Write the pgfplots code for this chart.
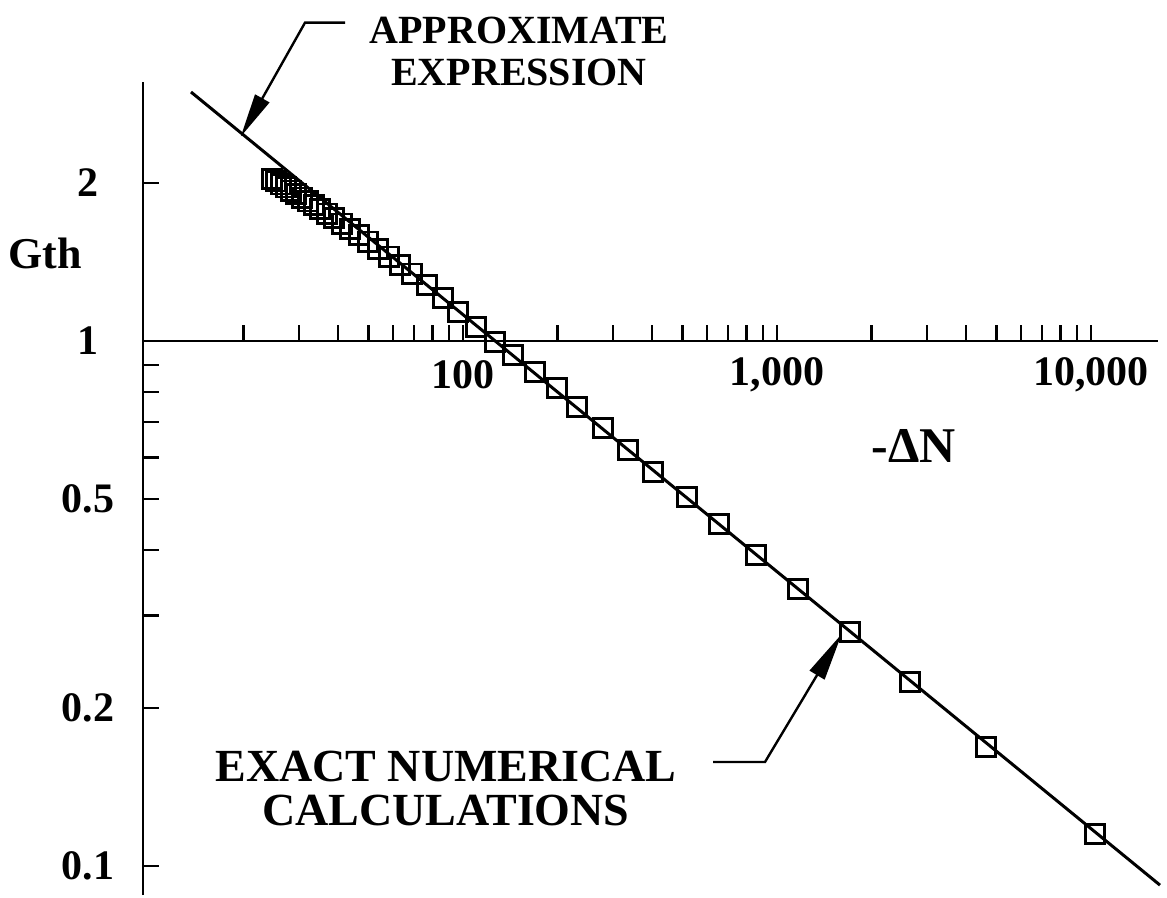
\documentclass[border=0pt]{standalone}
\usepackage{fontspec}
\setmainfont{Liberation Serif}
\usepackage{pgfplots}
\pgfplotsset{compat=1.18}
\usetikzlibrary{arrows.meta}
\begin{document}
\begin{tikzpicture}
\begin{axis}[
  at={(0,0)}, anchor=south west,
  scale only axis, width=507.5pt, height=406.5pt,
  xmode=log, ymode=log,
  xmin=9.57, xmax=16350, ymin=0.0881, ymax=3.114,
  axis x line=middle, axis y line=left,
  axis line style={-, line width=1.4pt},
  xtick={100,1000,10000}, xticklabels={100,{1,000},{10,000}},
  minor xtick={20,30,40,50,60,70,80,90,200,300,400,500,600,700,800,900,2000,3000,4000,5000,6000,7000,8000,9000},
  ytick={0.1,0.2,0.5,1,2}, yticklabels={0.1,0.2,0.5,1,2},
  minor ytick={0.3,0.4,0.6,0.7,0.8,0.9},
  tick align=inside,
  major tick length=8pt, minor tick length=8pt,
  every tick/.style={black, line width=1.1pt},
  ticklabel style={font=\bfseries\fontsize{21}{21}\selectfont},
  xticklabel style={anchor=center, yshift=-17pt},
  yticklabel style={anchor=center, xshift=-27.5pt},
  clip=false,
]
\addplot[black, line width=1.5pt, no marks] coordinates {(13.61,2.980) (16590,0.0920)};
\addplot[black, only marks, mark=square, mark size=4.8pt, mark options={solid, line width=1.4pt}] coordinates {
(24.6,2.035) (25.4,2.014) (26.3,1.988) (27.3,1.961) (28.3,1.934) (29.4,1.908)
(30.7,1.876) (32.1,1.845) (33.5,1.814) (35.0,1.784) (36.9,1.748) (38.8,1.713)
(41.2,1.673) (43.7,1.634) (46.6,1.590) (49.8,1.547) (53.6,1.499) (58.1,1.448)
(63.0,1.397) (68.8,1.344) (76.8,1.278) (86.4,1.207) (96.4,1.136) (110,1.063)
(126.5,0.9956) (144.3,0.9404) (169.6,0.8730) (199.2,0.8138) (230.8,0.7484)
(279.2,0.6829) (335.4,0.6200) (402.9,0.5627) (517,0.5044) (653.7,0.4481)
(857.6,0.3912) (1166.6,0.3370) (1708,0.2791) (2652,0.2241) (4631,0.1685) (10290,0.1151)
};
\end{axis}
\node[font=\bfseries\fontsize{20}{21}\selectfont, align=center] at (188pt,422pt) {APPROXIMATE\\EXPRESSION};
\draw[line width=1.2pt, -{Triangle[length=22pt,width=8pt]}] (101pt,436.15pt) -- (81pt,436.15pt) -- (48.85pt,379.15pt);
\node[font=\bfseries\fontsize{23}{22}\selectfont, align=center] at (151.5pt,53pt) {EXACT NUMERICAL\\CALCULATIONS};
\draw[line width=1.2pt, -{Triangle[length=24pt,width=8.5pt]}] (285pt,66.5pt) -- (311pt,66.5pt) -- (349.35pt,130.5pt);
\node[font=\bfseries\fontsize{25}{25}\selectfont] at (385.5pt,224.5pt) {-ΔN};
\node[font=\bfseries\fontsize{22}{22}\selectfont] at (-49pt,321pt) {Gth};
\pgfresetboundingbox
\path[use as bounding box] (-71.5pt,-1.5pt) rectangle (512pt,447.5pt);
\end{tikzpicture}
\end{document}
